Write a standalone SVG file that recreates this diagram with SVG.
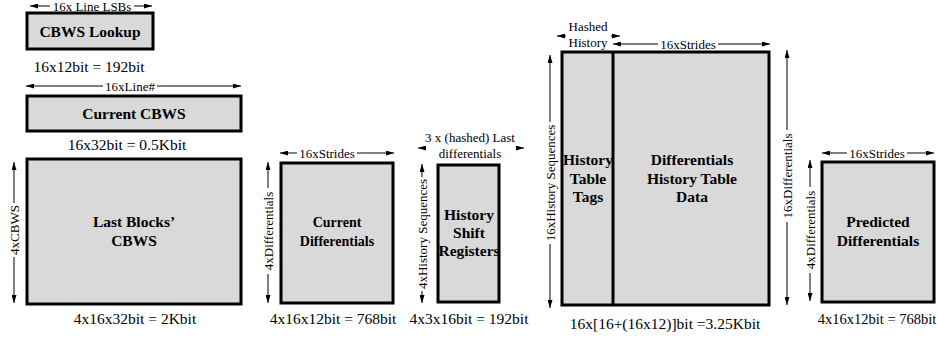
<svg xmlns="http://www.w3.org/2000/svg" width="938" height="339" viewBox="0 0 938 339" font-family="'Liberation Serif', 'DejaVu Serif', serif">
  <defs>
    <style>
      .box{fill:#d9d9d9;stroke:#000;stroke-width:3}
      .title{font-weight:bold;font-size:15.5px;text-anchor:middle;fill:#000}
      .size{font-size:15.5px;text-anchor:middle;fill:#000}
      .dim{font-size:13px;text-anchor:middle;fill:#000}
      .tip{stroke:#000;stroke-width:1;fill:none;marker-end:url(#head)}
    </style>
    <marker id="head" viewBox="0 0 8 5" refX="8" refY="2.5" markerWidth="8" markerHeight="5" markerUnits="userSpaceOnUse" orient="auto">
      <path d="M0,0 L8,2.5 L0,5 Z" fill="#000"/>
    </marker>
  </defs>
  <rect width="938" height="339" fill="#fff"/>

  <!-- dimension arrows: each is split into two halves around its label,
       every half drawn from the label outwards so the head sits at the far end -->
  <g id="connectors">
    <line class="tip" x1="50" y1="6" x2="30" y2="6"/>
    <line class="tip" x1="134" y1="6" x2="152" y2="6"/>

    <line class="tip" x1="103" y1="86" x2="26" y2="86"/>
    <line class="tip" x1="157" y1="86" x2="241" y2="86"/>

    <line class="tip" x1="14" y1="203" x2="14" y2="162"/>
    <line class="tip" x1="14" y1="257" x2="14" y2="303"/>

    <line class="tip" x1="297" y1="153" x2="280" y2="153"/>
    <line class="tip" x1="357" y1="153" x2="394" y2="153"/>

    <line class="tip" x1="268" y1="188" x2="268" y2="162"/>
    <line class="tip" x1="268" y1="274" x2="268" y2="303"/>

    <line class="tip" x1="426" y1="148" x2="418" y2="148"/>
    <line class="tip" x1="516" y1="148" x2="524" y2="148"/>

    <line class="tip" x1="422" y1="177" x2="422" y2="164"/>
    <line class="tip" x1="422" y1="291" x2="422" y2="303"/>

    <line class="tip" x1="566" y1="36" x2="557" y2="36"/>
    <line class="tip" x1="611" y1="36" x2="620" y2="36"/>

    <line class="tip" x1="658" y1="44" x2="613" y2="44"/>
    <line class="tip" x1="718" y1="44" x2="770" y2="44"/>

    <line class="tip" x1="550" y1="122" x2="550" y2="55"/>
    <line class="tip" x1="550" y1="244" x2="550" y2="308"/>

    <line class="tip" x1="787" y1="130" x2="787" y2="50"/>
    <line class="tip" x1="787" y1="222" x2="787" y2="305"/>

    <line class="tip" x1="847" y1="153" x2="822" y2="153"/>
    <line class="tip" x1="907" y1="153" x2="934" y2="153"/>

    <line class="tip" x1="810" y1="187" x2="810" y2="160"/>
    <line class="tip" x1="810" y1="273" x2="810" y2="301"/>

    <text class="dim" x="92" y="10.5">16x Line LSBs</text>
    <text class="dim" x="130" y="90.5">16xLine#</text>
    <text class="dim" transform="translate(14,230) rotate(-90)" dy="0.35em">4xCBWS</text>
    <text class="dim" x="327" y="157.5">16xStrides</text>
    <text class="dim" transform="translate(268,231) rotate(-90)" dy="0.35em">4xDifferentials</text>
    <text class="dim" x="470" y="142">3 x (hashed) Last</text>
    <text class="dim" x="470" y="158">differentials</text>
    <text class="dim" transform="translate(422,234) rotate(-90)" dy="0.35em">4xHistory Sequences</text>
    <text class="dim" x="588" y="31">Hashed</text>
    <text class="dim" x="588" y="47">History</text>
    <text class="dim" x="688" y="48.5">16xStrides</text>
    <text class="dim" transform="translate(550,183) rotate(-90)" dy="0.35em">16xHistory Sequences</text>
    <text class="dim" transform="translate(787,176) rotate(-90)" dy="0.35em">16xDifferentials</text>
    <text class="dim" x="877" y="157.5">16xStrides</text>
    <text class="dim" transform="translate(810,230) rotate(-90)" dy="0.35em">4xDifferentials</text>
  </g>

  <g id="cbws-lookup">
    <rect class="box" x="27" y="13" width="126" height="36"/>
    <text class="title" x="90" y="36.5">CBWS Lookup</text>
    <text class="size" x="89" y="72">16x12bit = 192bit</text>
  </g>

  <g id="current-cbws">
    <rect class="box" x="27" y="96" width="214" height="35"/>
    <text class="title" x="134" y="119">Current CBWS</text>
    <text class="size" x="127" y="150">16x32bit = 0.5Kbit</text>
  </g>

  <g id="last-blocks-cbws">
    <rect class="box" x="27" y="159" width="214" height="145"/>
    <text class="title" x="134" y="227">Last Blocks’</text>
    <text class="title" x="134" y="246">CBWS</text>
    <text class="size" x="135" y="324">4x16x32bit = 2Kbit</text>
  </g>

  <g id="current-differentials">
    <rect class="box" x="281" y="163" width="112" height="140"/>
    <text class="title" x="337" y="227" style="font-size:14px">Current</text>
    <text class="title" x="337" y="246" style="font-size:14px">Differentials</text>
    <text class="size" x="333" y="324">4x16x12bit = 768bit</text>
  </g>

  <g id="history-shift-registers">
    <rect class="box" x="438" y="165" width="61" height="137"/>
    <text class="title" x="469" y="220">History</text>
    <text class="title" x="469" y="238">Shift</text>
    <text class="title" x="469" y="256">Registers</text>
    <text class="size" x="469" y="324">4x3x16bit = 192bit</text>
  </g>

  <g id="history-table">
    <rect class="box" x="562" y="52" width="207" height="253"/>
    <line x1="613" y1="52" x2="613" y2="305" stroke="#000" stroke-width="3"/>
    <text class="title" x="588" y="165">History</text>
    <text class="title" x="588" y="184">Table</text>
    <text class="title" x="588" y="202">Tags</text>
    <text class="title" x="692" y="165">Differentials</text>
    <text class="title" x="692" y="184">History Table</text>
    <text class="title" x="692" y="202">Data</text>
    <text class="size" x="665" y="329">16x[16+(16x12)]bit =3.25Kbit</text>
  </g>

  <g id="predicted-differentials">
    <rect class="box" x="822" y="162" width="112" height="140"/>
    <text class="title" x="878" y="227">Predicted</text>
    <text class="title" x="878" y="246">Differentials</text>
    <text class="size" x="877" y="324" style="font-size:14.5px">4x16x12bit = 768bit</text>
  </g>
</svg>
